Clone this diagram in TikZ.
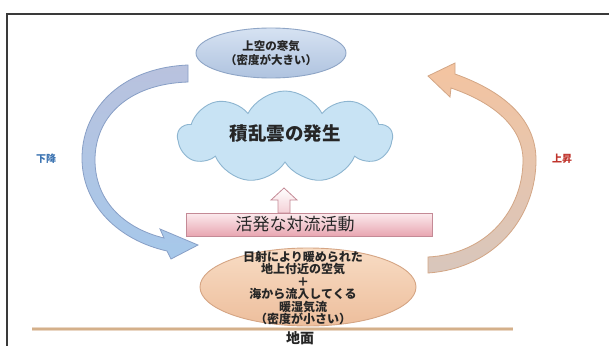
\documentclass[tikz,border=0pt]{standalone}
\usepackage{fontspec}
\newfontfamily\jp{Noto Sans CJK JP}
\usetikzlibrary{shapes.geometric,shapes.symbols}
\definecolor{frameC}{HTML}{3A3A3A}
\definecolor{topEllA}{HTML}{D6E2F2}
\definecolor{topEllB}{HTML}{AFC3DF}
\definecolor{topEllD}{HTML}{8EA5C6}
\definecolor{cloudF}{HTML}{C8E3F4}
\definecolor{cloudD}{HTML}{8DB5D0}
\definecolor{pinkA}{HTML}{FCEBEE}
\definecolor{pinkB}{HTML}{E8A6B1}
\definecolor{pinkD}{HTML}{C48A96}
\definecolor{peachA}{HTML}{F8DCC4}
\definecolor{peachB}{HTML}{EDBE9C}
\definecolor{peachD}{HTML}{D5A584}
\definecolor{groundC}{HTML}{D4B08A}
\definecolor{downA}{HTML}{B9C2DE}
\definecolor{downB}{HTML}{A6C8EA}
\definecolor{downD}{HTML}{889FC6}
\definecolor{upA}{HTML}{F4C4A0}
\definecolor{upB}{HTML}{D8C6BC}
\definecolor{upD}{HTML}{D3A685}
\definecolor{downT}{HTML}{3C74B2}
\definecolor{upT}{HTML}{C0342C}
\tikzset{
  txt/.style={font=\jp, text=black!85, inner sep=0pt, align=center},
  topell/.style={ellipse, draw=topEllD, line width=0.9pt, top color=topEllA, bottom color=topEllB, minimum width=150pt, minimum height=50pt, inner sep=0pt},
  botell/.style={ellipse, draw=peachD, line width=0.9pt, top color=peachA, bottom color=peachB, minimum width=216pt, minimum height=78pt, inner sep=0pt},
  cloudbox/.style={cloud, cloud puffs=9, cloud puff arc=125, cloud ignores aspect, draw=cloudD, line width=0.9pt, fill=cloudF, minimum width=214pt, minimum height=92pt, inner sep=0pt},
  actbox/.style={rectangle, draw=pinkD, line width=0.9pt, top color=pinkA, bottom color=pinkB, minimum width=246pt, minimum height=23pt, inner sep=0pt},
  downarrow/.style={draw=downD, line width=0.8pt, top color=downA, bottom color=downB},
  uparrow/.style={draw=upD, line width=0.8pt, top color=upA, bottom color=upB},
  lbl/.style={font=\jp\bfseries\fontsize{10}{12}\selectfont, inner sep=0pt}
}
\begin{document}
\begin{tikzpicture}[x=1pt,y=-1pt]
\fill[white] (0,0) rectangle (609,345);
\clip (0,0) rectangle (609,345);
% frame
\draw[frameC, line width=1.6pt] (7,346) -- (7,14) -- (610,14);
% ground line
\coordinate (g1) at (32,329);
\coordinate (g2) at (513,329);
\draw[groundC!50, line width=4pt] (g1) -- (g2);
\draw[groundC, line width=1.8pt] (g1) -- (g2);
% left (descending) curved arrow
\path[downarrow] (188,65) .. controls (118,68) and (81,112) .. (82,160)
  .. controls (83,205) and (118,240) .. (167,251) -- (171,259) -- (198,245) -- (160,229) -- (164,238)
  .. controls (123,228) and (95,200) .. (95,160)
  .. controls (95,118) and (127,84) .. (188,82) -- cycle;
% right (ascending) curved arrow
\path[uparrow] (428,273) .. controls (497,268) and (536,215) .. (536,160)
  .. controls (536,122) and (508,93) .. (455,74) -- (455,63) -- (428,76) -- (450,97) -- (451,88)
  .. controls (495,103) and (523,128) .. (523,160)
  .. controls (523,210) and (487,254) .. (428,257) -- cycle;
% nodes
\node[topell] (cold) at (271,53) {};
\node[txt, font=\jp\bfseries\fontsize{11.5}{14}\selectfont] (coldt) at (271,53) {上空の寒気\\（密度が大きい）};
\node[cloudbox] (cb) at (285,137) {};
\node[txt, font=\jp\bfseries\fontsize{18.5}{20}\selectfont] (cbt) at (285,134) {積乱雲の発生};
\path[draw=pinkD, line width=0.8pt, top color=white, bottom color=pinkA!60!pinkB]
  (284,188) -- (297,200) -- (290,200) -- (290,213) -- (278,213) -- (278,200) -- (271,200) -- cycle;
\node[actbox] (act) at (309,224.5) {};
\node[txt, font=\jp\fontsize{17}{19}\selectfont] (actt) at (295,224.5) {活発な対流活動};
\node[botell] (warm) at (308,287) {};
\node[txt, font=\jp\bfseries\fontsize{12}{12.4}\selectfont] (warmt) at (303,288) {日射により暖められた\\地上付近の空気\\＋\\海から流入してくる\\暖湿気流\\（密度が小さい）};
\node[lbl, text=downT] (down) at (46,159) {下降};
\node[lbl, text=upT] (up) at (562,159) {上昇};
\node[txt, font=\jp\bfseries\fontsize{14}{15}\selectfont] (ground) at (300,338) {地面};
\end{tikzpicture}
\end{document}
